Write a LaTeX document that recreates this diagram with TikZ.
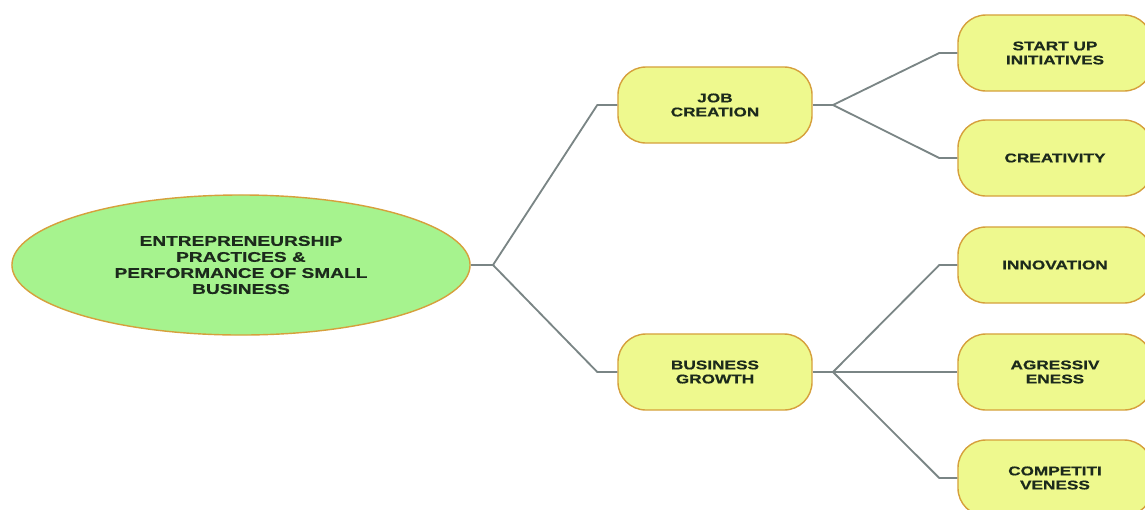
\documentclass[tikz,border=0pt]{standalone}
\usepackage{fontspec}
\usepackage{xcolor}
\usetikzlibrary{positioning,shapes.geometric}
\newfontfamily\labelfont[FakeStretch=1.36,FakeBold=0.6]{Liberation Sans}
\definecolor{ink}{HTML}{1C2A1C}
\definecolor{rootfill}{HTML}{A6F38E}
\definecolor{boxfill}{HTML}{EEF98E}
\definecolor{rim}{HTML}{D6A03C}
\definecolor{link}{HTML}{7A8585}
\begin{document}
\begin{tikzpicture}[x=0.025cm,y=-0.025cm,
 root/.style={ellipse,draw=rim,fill=rootfill,line width=1pt,minimum width=11.45cm,minimum height=3.5cm,
  align=center,text=ink,font=\labelfont\bfseries\fontsize{10}{11.4}\selectfont},
 topic/.style={draw=rim,fill=boxfill,line width=1pt,rounded corners=0.7cm,minimum width=4.85cm,minimum height=1.9cm,
  align=center,text=ink,font=\labelfont\bfseries\fontsize{9}{10}\selectfont},
 wire/.style={draw=link,line width=1.3pt}]
\useasboundingbox (0,0) rectangle (1145,509);
\clip (0,0) rectangle (1145,509);
% the root and its two branches
\node[root] (ent) at (241,265) {ENTREPRENEURSHIP\\PRACTICES \&\\PERFORMANCE OF SMALL\\BUSINESS};
\node[topic] (job) at (715,105) {JOB\\CREATION};
\node[topic] (grow) at (715,372) {BUSINESS\\GROWTH};
% the leaves
\node[topic] (start) at (1055,53) {START UP\\INITIATIVES};
\node[topic] (creat) at (1055,158) {CREATIVITY};
\node[topic] (innov) at (1055,265) {INNOVATION};
\node[topic] (aggr) at (1055,372) {AGRESSIV\\ENESS};
\node[topic] (comp) at (1055,478) {COMPETITI\\VENESS};
% forks
\coordinate (f0) at (493,265);
\coordinate (f1) at (833,105);
\coordinate (f2) at (833,372);
\draw[wire] (ent.east) -- (f0);
\foreach \t in {job,grow} {\draw[wire,line join=round] (f0) -- ([xshift=-0.5cm]\t.west) -- (\t.west);}
\draw[wire] (job.east) -- (f1);
\foreach \t in {start,creat} {\draw[wire,line join=round] (f1) -- ([xshift=-0.45cm]\t.west) -- (\t.west);}
\draw[wire] (grow.east) -- (f2);
\foreach \t in {innov,aggr,comp} {\draw[wire,line join=round] (f2) -- ([xshift=-0.45cm]\t.west) -- (\t.west);}
\end{tikzpicture}
\end{document}
